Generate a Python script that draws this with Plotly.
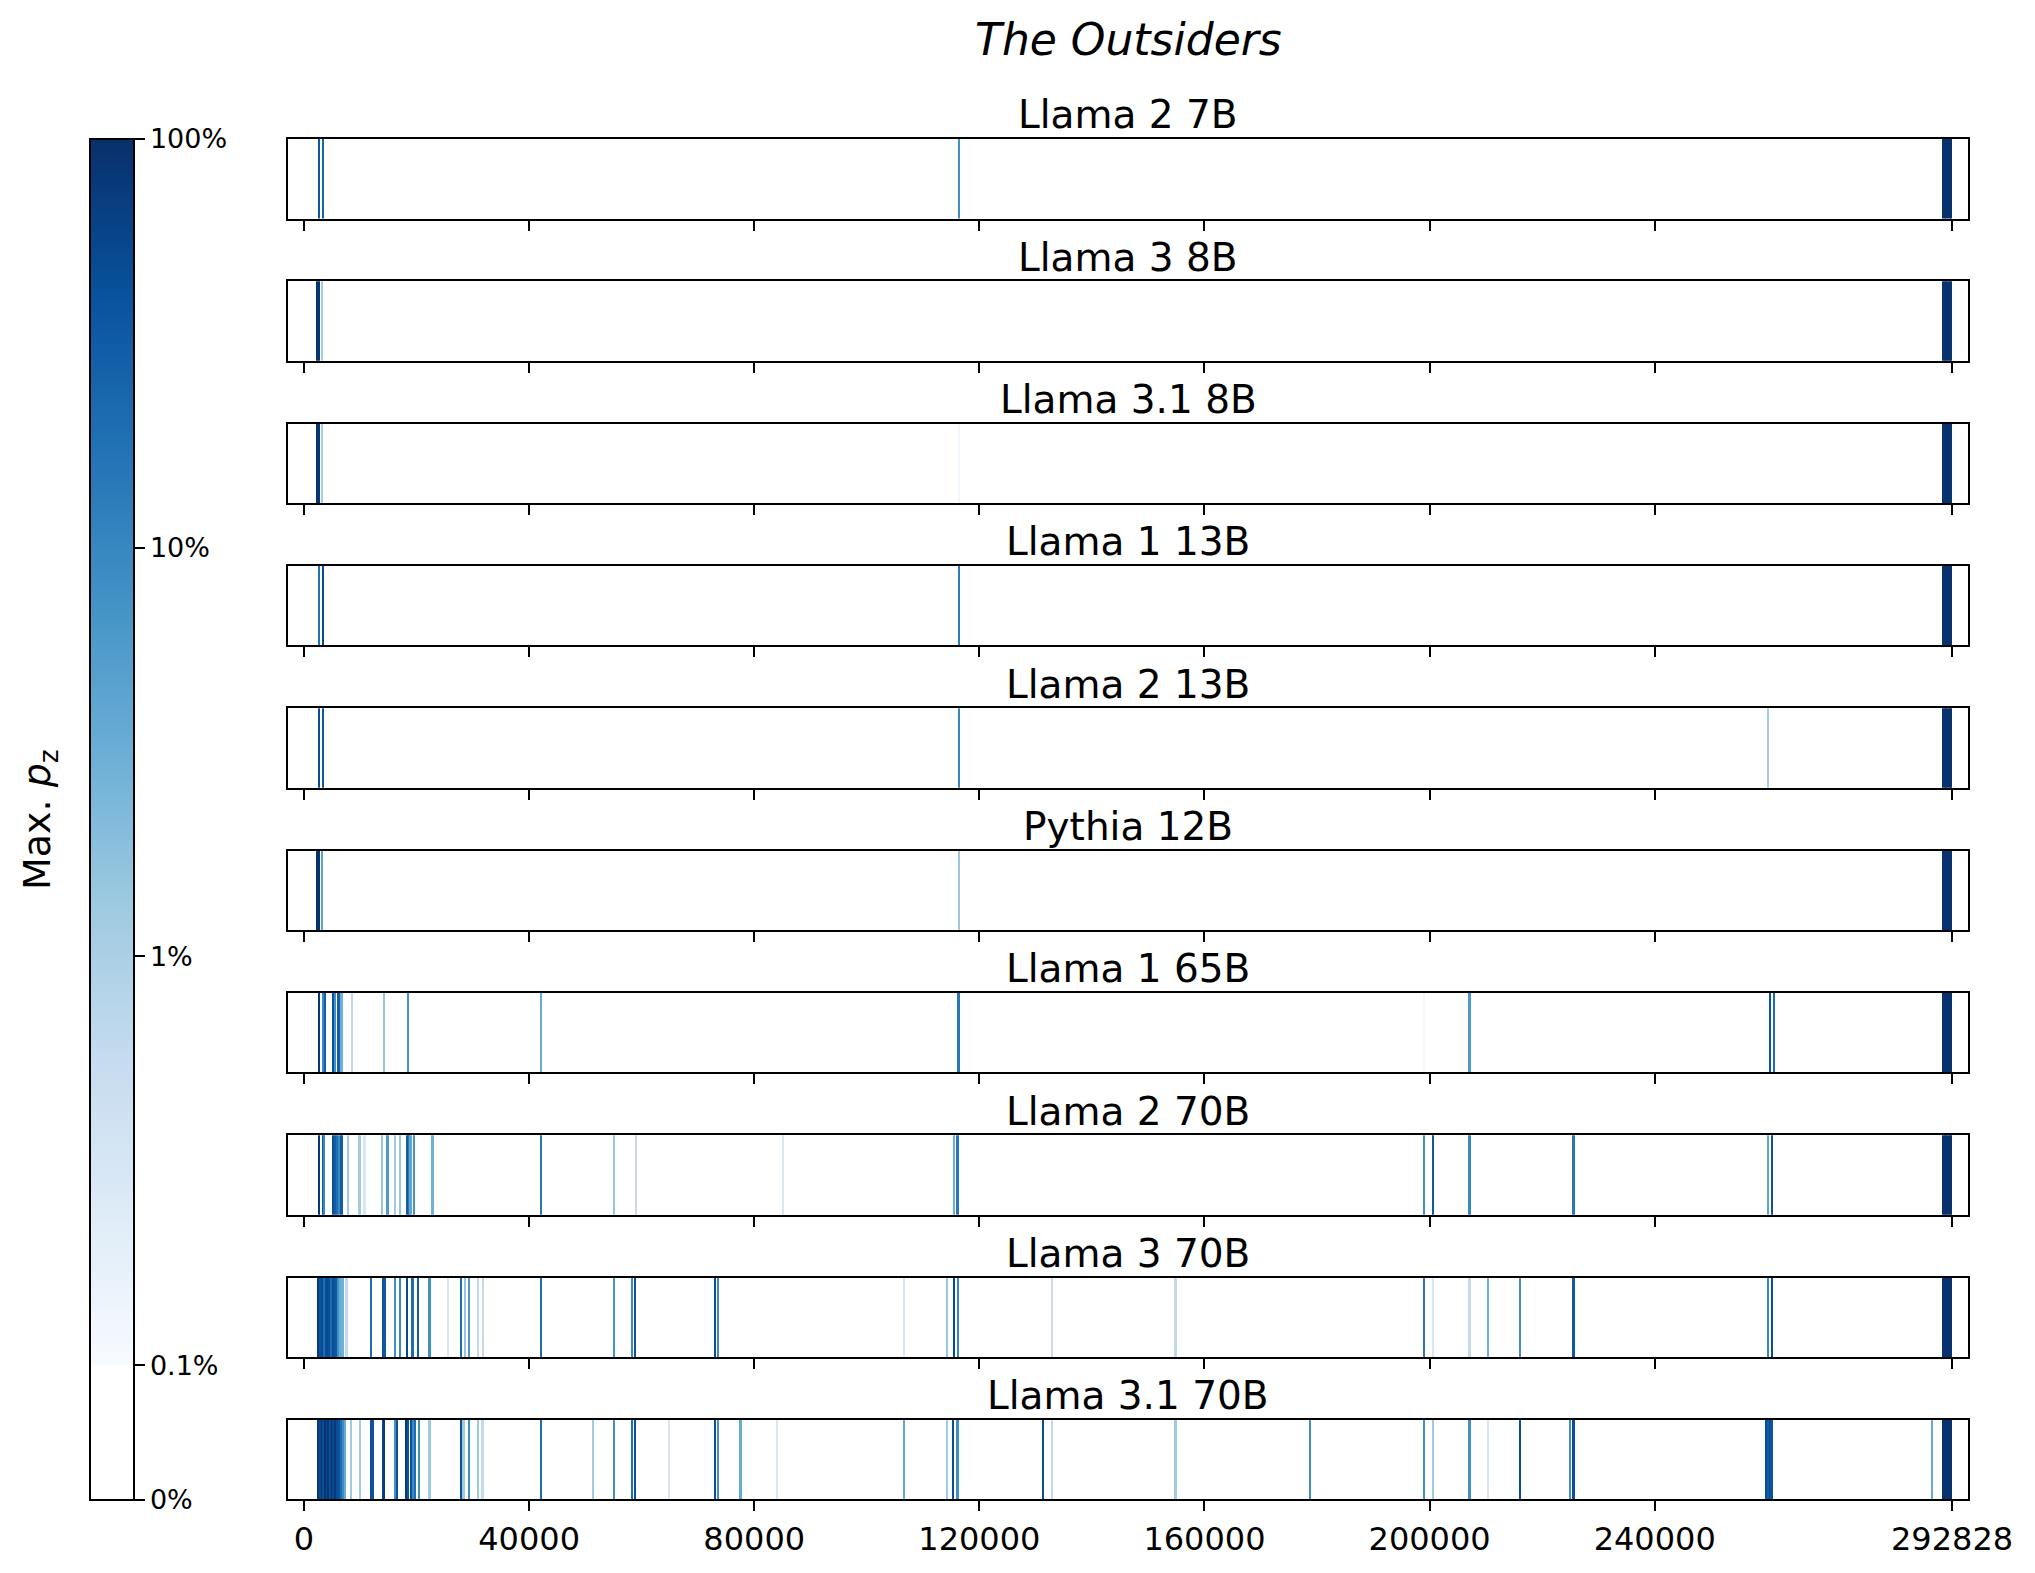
import numpy as np
import plotly.graph_objects as go

W, H = 2035, 1573
TOTAL = 292828
CHUNK = 300

MODEL_NAMES = ["Llama 2 7B", "Llama 3 8B", "Llama 3.1 8B", "Llama 1 13B", "Llama 2 13B",
               "Pythia 12B", "Llama 1 65B", "Llama 2 70B", "Llama 3 70B", "Llama 3.1 70B"]

BAND_POS = [291250, 291550, 291850, 292150, 292450, 292750]

llama2_7b_pos = [2700, 3380, 116400] + BAND_POS
llama2_7b_val = [0.35, 0.25, 0.08, 0.95, 0.95, 0.95, 0.95, 0.95, 0.95]

llama3_8b_pos = [2400, 2700, 3300] + BAND_POS
llama3_8b_val = [0.9, 0.9, 0.012, 0.9, 0.95, 0.95, 0.95, 0.95, 0.9]

llama31_8b_pos = [2400, 2700, 3300, 116400] + BAND_POS
llama31_8b_val = [0.9, 0.85, 0.011, 0.0013, 0.9, 0.95, 0.95, 0.95, 0.95, 0.9]

llama1_13b_pos = [2700, 3380, 116400] + BAND_POS
llama1_13b_val = [0.17, 0.5, 0.13, 0.95, 0.95, 0.95, 0.95, 0.95, 0.95]

llama2_13b_pos = [2700, 3380, 116400, 260200] + BAND_POS
llama2_13b_val = [0.45, 0.35, 0.1, 0.012, 0.95, 0.95, 0.95, 0.95, 0.95, 0.95]

pythia_12b_pos = [2400, 2700, 3300, 116400] + BAND_POS
pythia_12b_val = [0.95, 0.95, 0.045, 0.014, 0.95, 0.95, 0.95, 0.95, 0.95, 0.95]

llama1_65b_pos = [2640, 3360, 3720, 5180, 5620, 6170, 6710, 8520, 14250, 18520, 42190,
                  116350, 199050, 207150, 260460, 261170] + BAND_POS
llama1_65b_val = [0.8, 0.09, 0.3, 0.4, 0.08, 0.3, 0.03, 0.006, 0.015, 0.07, 0.035,
                  0.15, 0.0012, 0.06, 0.4, 0.2, 0.95, 0.95, 0.95, 0.95, 0.95, 0.95]

llama2_70b_pos = [2640, 3360, 3540, 5180, 5540, 5900, 6270, 6710, 7800, 9890, 10800,
                  13880, 14880, 16240, 17150, 18420, 18700, 18960, 19600, 22870, 42190,
                  55170, 58980, 85200, 115600, 116160, 199060, 200590, 207150, 225600,
                  260100, 260940] + BAND_POS
llama2_70b_val = [0.8, 0.35, 0.1, 0.45, 0.3, 0.2, 0.1, 0.3, 0.013, 0.012, 0.003,
                  0.015, 0.06, 0.012, 0.015, 0.3, 0.15, 0.04, 0.07, 0.03, 0.15,
                  0.015, 0.006, 0.003, 0.03, 0.15, 0.08, 0.35, 0.1, 0.15,
                  0.04, 0.4, 0.95, 0.95, 0.95, 0.95, 0.95, 0.95]

llama3_70b_pos = [2540, 2950, 3250, 3600, 3900, 4250, 4550, 4850, 5150, 5450, 5750, 6150,
                  6450, 6900, 7600, 11890, 14070, 14350, 16160, 17060, 18330, 19330, 20240,
                  22330, 25600, 27950, 28580, 29310, 30950, 31850, 42100, 55090, 58340,
                  58890, 73140, 73600, 106630, 114330, 115530, 116260, 132940, 154910,
                  199060, 200590, 207150, 210440, 216080, 225600, 260200, 260900] + BAND_POS
llama3_70b_val = [0.8, 0.4, 0.5, 0.2, 0.45, 0.5, 0.45, 0.2, 0.5, 0.4, 0.35, 0.08,
                  0.035, 0.03, 0.006, 0.2, 0.45, 0.35, 0.08, 0.1, 0.5, 0.2, 0.3,
                  0.08, 0.003, 0.2, 0.015, 0.06, 0.006, 0.006, 0.2, 0.07, 0.09,
                  0.4, 0.45, 0.09, 0.003, 0.015, 0.5, 0.1, 0.005, 0.006,
                  0.15, 0.003, 0.006, 0.03, 0.08, 0.35, 0.1, 0.45,
                  0.95, 0.95, 0.95, 0.95, 0.95, 0.95]

llama31_70b_pos = [2540, 2900, 3200, 3500, 3800, 4100, 4400, 4700, 5000, 5300, 5600, 5900,
                   6200, 6600, 7000, 7350, 8440, 9980, 11980, 12250, 14070, 14300, 16160,
                   16610, 18240, 18500, 19150, 19500, 19780, 20420, 22330, 27950, 28400,
                   29400, 30950, 31760, 42100, 51360, 55090, 58340, 58890, 64880, 73140,
                   73600, 77590, 84030, 106630, 114330, 115330, 116160, 131310, 132940,
                   154910, 178750, 199060, 200590, 207150, 210440, 216080, 225000, 225600,
                   259900, 260200, 260500, 260800, 289350] + BAND_POS
llama31_70b_val = [0.8, 0.5, 0.9, 0.45, 0.9, 0.5, 0.9, 0.45, 0.9, 0.5, 0.8, 0.45,
                   0.4, 0.2, 0.09, 0.035, 0.013, 0.012, 0.45, 0.4, 0.45, 0.8, 0.08,
                   0.4, 0.8, 0.4, 0.45, 0.09, 0.2, 0.08, 0.013, 0.45, 0.013,
                   0.08, 0.013, 0.006, 0.2, 0.013, 0.08, 0.2, 0.45, 0.003, 0.45,
                   0.08, 0.035, 0.003, 0.04, 0.013, 0.45, 0.08, 0.45, 0.006,
                   0.013, 0.08, 0.08, 0.013, 0.08, 0.003, 0.45, 0.08, 0.45,
                   0.45, 0.3, 0.5, 0.4, 0.035, 0.95, 0.95, 0.95, 0.95, 0.95, 0.95]

SERIES = [
    (llama2_7b_pos, llama2_7b_val), (llama3_8b_pos, llama3_8b_val),
    (llama31_8b_pos, llama31_8b_val), (llama1_13b_pos, llama1_13b_val),
    (llama2_13b_pos, llama2_13b_val), (pythia_12b_pos, pythia_12b_val),
    (llama1_65b_pos, llama1_65b_val), (llama2_70b_pos, llama2_70b_val),
    (llama3_70b_pos, llama3_70b_val), (llama31_70b_pos, llama31_70b_val),
]

X_TICKS = [0, 40000, 80000, 120000, 160000, 200000, 240000, TOTAL]
X_TICK_TEXT = ["0", "40000", "80000", "120000", "160000", "200000", "240000", "292828"]
CB_TICK_TEXT = ["0%", "0.1%", "1%", "10%", "100%"]

# colour scale: linear 0..0.1 % (white), log above 0.1 %
LIN = 0.33          # length of the linear part, in decades
LINTHRESH = 1e-3
TMAX = LIN + 3


def transform(p):
    p = np.asarray(p, dtype=float)
    return np.where(p <= LINTHRESH, p / LINTHRESH * LIN,
                    LIN + np.log10(np.maximum(p, LINTHRESH) / LINTHRESH))


blues = ["#f7fbff", "#deebf7", "#c6dbef", "#9ecae1", "#6baed6",
         "#4292c6", "#2171b5", "#08519c", "#08306b"]
b = LIN / TMAX
colorscale = [[0.0, "#ffffff"], [b, "#ffffff"]]
for k, c in enumerate(blues):
    colorscale.append([b + (1 - b) * k / (len(blues) - 1), c])

FONT = "DejaVu Sans"
fig = go.Figure()

x0_px, x1_px = 288, 1968
x_range = [-2843, 295665]
top0, pitch, ph = 139, 142.33, 79.5

annotations = []
for i, (name, (pos, val)) in enumerate(zip(MODEL_NAMES, SERIES)):
    n = i + 1
    xa = "x" if n == 1 else f"x{n}"
    ya = "y" if n == 1 else f"y{n}"
    fig.add_trace(go.Bar(
        x=pos, y=[1] * len(pos), width=CHUNK, base=0,
        marker=dict(color=transform(val), coloraxis="coloraxis", line=dict(width=0)),
        xaxis=xa, yaxis=ya, showlegend=False, hoverinfo="x"))
    top = top0 + i * pitch
    bot = top + ph
    xkey = "xaxis" if n == 1 else f"xaxis{n}"
    ykey = "yaxis" if n == 1 else f"yaxis{n}"
    fig.layout[xkey] = dict(
        domain=[x0_px / W, x1_px / W], anchor=ya, range=x_range,
        showline=True, mirror=True, linecolor="black", linewidth=2,
        ticks="outside", ticklen=10, tickwidth=2, tickcolor="black",
        tickmode="array", tickvals=X_TICKS, ticktext=X_TICK_TEXT,
        showticklabels=(n == 10), showgrid=False, zeroline=False, automargin=False,
        tickfont=dict(family=FONT, size=32, color="black"))
    fig.layout[ykey] = dict(
        domain=[1 - bot / H, 1 - top / H], anchor=xa, range=[0, 1],
        showline=True, mirror=True, linecolor="black", linewidth=2,
        showticklabels=False, ticks="", showgrid=False, zeroline=False, automargin=False)
    annotations.append(dict(
        text=name, x=(x0_px + x1_px) / 2 / W, y=1 - (top - 24) / H,
        xref="paper", yref="paper", xanchor="center", yanchor="middle",
        showarrow=False, font=dict(family=FONT, size=39, color="black")))

annotations.append(dict(
    text="<i>The Outsiders</i>", x=(x0_px + x1_px) / 2 / W, y=1 - 39 / H,
    xref="paper", yref="paper", xanchor="center", yanchor="middle",
    showarrow=False, font=dict(family=FONT, size=44, color="black")))
annotations.append(dict(
    text="Max. <i>p</i><sub>z</sub>", x=39 / W, y=1 - 820 / H, textangle=-90,
    xref="paper", yref="paper", xanchor="center", yanchor="middle",
    showarrow=False, font=dict(family=FONT, size=38, color="black")))

fig.update_layout(
    width=W, height=H, margin=dict(l=0, r=0, t=0, b=0, autoexpand=False),
    paper_bgcolor="white", plot_bgcolor="white",
    bargap=0, barmode="overlay",
    annotations=annotations,
    coloraxis=dict(
        colorscale=colorscale, cmin=0, cmax=TMAX,
        colorbar=dict(
            x=90 / W, xanchor="left", y=1 - 139 / H, yanchor="top",
            len=1361, lenmode="pixels", thickness=44, thicknessmode="pixels",
            xpad=0, ypad=0, outlinewidth=2, outlinecolor="black",
            tickmode="array", tickvals=list(transform([0, 1e-3, 1e-2, 1e-1, 1.0])),
            ticktext=CB_TICK_TEXT, ticks="outside", ticklen=10, tickwidth=2,
            tickcolor="black", tickfont=dict(family=FONT, size=27, color="black"))),
)

fig.write_html("out.html")
